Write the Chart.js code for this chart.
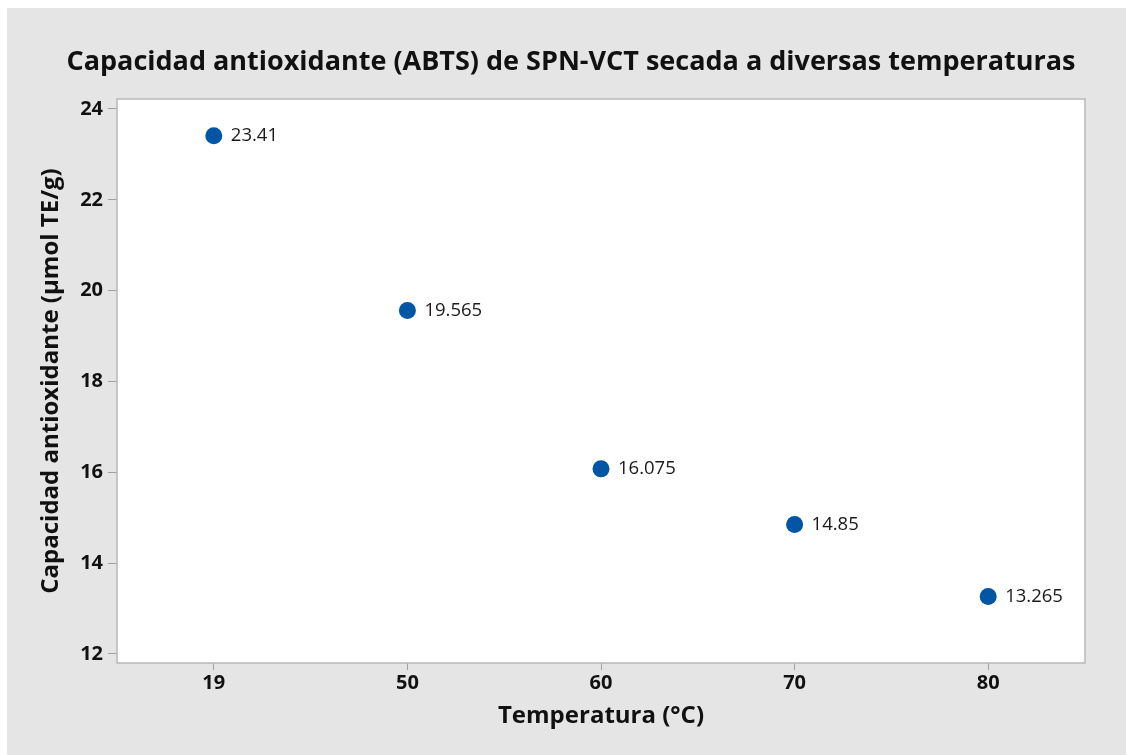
<!DOCTYPE html>
<html>
<head>
<meta charset="utf-8">
<script src="https://cdn.jsdelivr.net/npm/chart.js@4"></script>
<style>
  html, body { margin: 0; padding: 0; background: #ffffff; }
  #wrap { position: absolute; left: 0; top: 0; width: 1126px; height: 755px; }
</style>
</head>
<body>
<div id="wrap"><canvas id="c" width="1126" height="755"></canvas></div>
<script>
const temperatures = ['19', '50', '60', '70', '80'];
const capacity = [23.41, 19.565, 16.075, 14.85, 13.265];
const pointLabels = ['23.41', '19.565', '16.075', '14.85', '13.265'];
const yTicks = [12, 14, 16, 18, 20, 22, 24];

const FONT = "'Open Sans', 'Noto Sans', sans-serif";

const bgPlugin = {
  id: 'bg',
  beforeDraw(chart) {
    const ctx = chart.ctx, a = chart.chartArea;
    ctx.save();
    ctx.fillStyle = '#ffffff';
    ctx.fillRect(0, 0, chart.width, chart.height);
    ctx.fillStyle = '#e5e5e5';
    ctx.fillRect(7, 8, chart.width - 7, chart.height - 8);
    ctx.fillStyle = '#ffffff';
    ctx.fillRect(a.left, a.top, a.right - a.left, a.bottom - a.top);
    ctx.restore();
  },
  afterDatasetsDraw(chart) {
    const ctx = chart.ctx, a = chart.chartArea;
    ctx.save();
    ctx.strokeStyle = '#b8b8b8';
    ctx.lineWidth = 1.5;
    ctx.strokeRect(a.left, a.top, a.right - a.left, a.bottom - a.top);
    const meta = chart.getDatasetMeta(0);
    ctx.fillStyle = '#1a1a1a';
    ctx.font = "400 18.5px " + FONT;
    ctx.textAlign = 'left';
    ctx.textBaseline = 'middle';
    meta.data.forEach((pt, i) => {
      ctx.fillText(pointLabels[i], pt.x + 17, pt.y);
    });
    ctx.restore();
  }
};

new Chart(document.getElementById('c'), {
  type: 'line',
  data: {
    labels: temperatures,
    datasets: [{
      data: capacity,
      showLine: false,
      pointRadius: 8.5,
      pointHoverRadius: 8.5,
      pointBackgroundColor: '#0055a5',
      pointBorderColor: '#0055a5',
      pointBorderWidth: 0
    }]
  },
  options: {
    responsive: false,
    animation: false,
    events: [],
    layout: { padding: { left: 16, right: 0, top: 0, bottom: 0 } },
    plugins: {
      legend: { display: false },
      tooltip: { enabled: false },
      title: {
        display: true,
        text: 'Capacidad antioxidante (ABTS) de SPN-VCT secada a diversas temperaturas',
        color: '#111111',
        font: { family: FONT, size: 27, weight: '700', lineHeight: 1.2 },
        padding: { top: 46, bottom: 20.6 }
      }
    },
    scales: {
      x: {
        type: 'category',
        offset: true,
        grid: { display: true, drawOnChartArea: false, offset: false, tickLength: 7, color: '#a0a0a0', tickColor: '#a0a0a0' },
        border: { display: false },
        ticks: { color: '#111111', font: { family: FONT, size: 20, weight: '700' }, padding: 1, maxRotation: 0 },
        title: {
          display: true,
          text: 'Temperatura (°C)',
          color: '#111111',
          font: { family: FONT, size: 24, weight: '700', lineHeight: 1.2 },
          padding: { top: 0, bottom: 24 }
        },
        afterFit(scale) { scale.height = 92; }
      },
      y: {
        type: 'linear',
        min: 11.8,
        max: 24.22,
        grid: { display: true, drawOnChartArea: false, tickLength: 9, color: '#a0a0a0', tickColor: '#a0a0a0' },
        border: { display: false },
        afterBuildTicks(scale) { scale.ticks = yTicks.map(v => ({ value: v })); },
        ticks: { color: '#111111', font: { family: FONT, size: 20, weight: '700' }, padding: 5 },
        title: {
          display: true,
          text: 'Capacidad antioxidante (µmol TE/g)',
          color: '#111111',
          font: { family: FONT, size: 24, weight: '700', lineHeight: 1.2 },
          padding: { top: 21, bottom: 0 }
        },
        afterFit(scale) { scale.width = 101; }
      },
      yRight: {
        type: 'linear',
        position: 'right',
        display: true,
        grid: { display: false },
        border: { display: false },
        ticks: { display: false },
        title: { display: false },
        afterFit(scale) { scale.width = 41; }
      }
    }
  },
  plugins: [bgPlugin]
});
</script>
</body>
</html>
